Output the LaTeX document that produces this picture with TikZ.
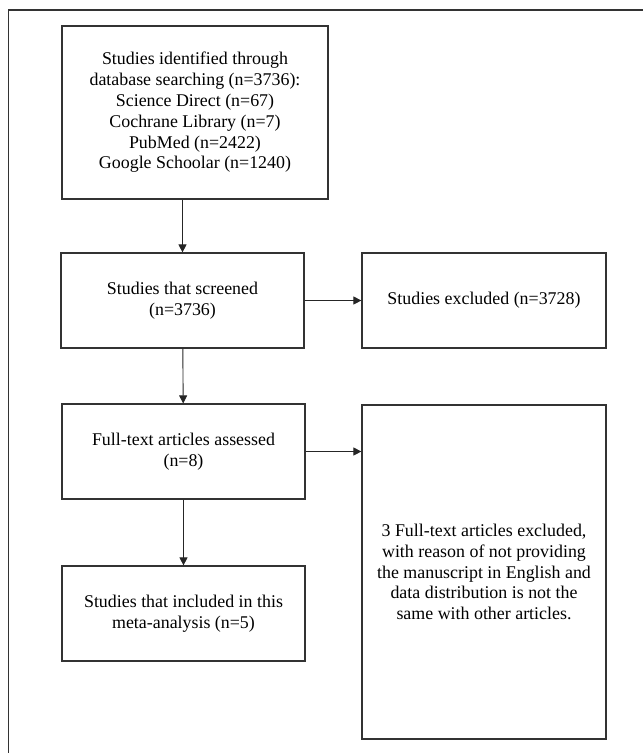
\documentclass[tikz,border=0pt]{standalone}
\usepackage{fontspec}
\setmainfont{Liberation Serif}
\usetikzlibrary{arrows.meta,positioning}
\begin{document}
\begin{tikzpicture}[x=1pt, y=-1pt,
    stage/.style={draw=black!80, line width=1.2pt, minimum width=243pt, minimum height=95pt, align=center, inner sep=0pt, font=\fontsize{17.9}{20.8}\selectfont},
    sidebox/.style={stage, minimum width=244pt},
    link/.style={draw=black!85, line width=0.9pt, -{Triangle[length=8pt,width=8pt]}},
    frame/.style={draw=black!80, line width=1.2pt}
]
\useasboundingbox (0,0) rectangle (643,753);
\draw[frame] (8.5,753) -- (8.5,10) -- (643,10);

\node[stage, minimum width=266pt, minimum height=173pt] (ident) at (195,112.5) {Studies identified through\\database searching (n=3736):\\Science Direct (n=67)\\Cochrane Library (n=7)\\PubMed (n=2422)\\Google Schoolar (n=1240)};
\node[stage] (screen) at (182.5,300.5) {Studies that screened\\(n=3736)};
\node[sidebox] (excl) at (484,300.5) {Studies excluded (n=3728)};

\node[stage] (full) at (183.5,451.5) {Full-text articles assessed\\(n=8)};
\node[sidebox, minimum height=334pt] (reason) at (484,572) {3 Full-text articles excluded,\\with reason of not providing\\the manuscript in English and\\data distribution is not the\\same with other articles.};
\node[stage] (incl) at (183.5,613.5) {Studies that included in this\\meta-analysis (n=5)};

\draw[link] (ident.south -| screen.north) -- (screen.north);
\draw[link] (screen.east) -- (excl.west);
\draw[link] (screen) -- (full);
\draw[link] (full.east) -- (full.east -| reason.west);
\draw[link] (full) -- (incl);
\end{tikzpicture}
\end{document}
